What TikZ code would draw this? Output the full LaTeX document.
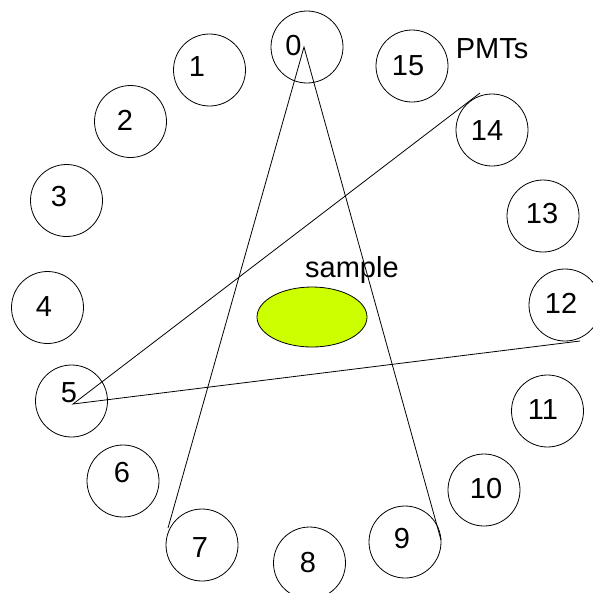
\documentclass[tikz,border=0pt]{standalone}
\usepackage{fontspec}
\setmainfont{Liberation Sans}
\usetikzlibrary{shapes.geometric}
\definecolor{samplefill}{HTML}{CCFF00}
\begin{document}
\begin{tikzpicture}[x=1pt,y=-1pt,
  pmt/.style={draw,circle,line width=0.8pt,minimum size=72pt,inner sep=0pt},
  num/.style={font=\fontsize{29}{30}\selectfont,inner sep=0pt},
  ray/.style={line width=0.8pt}]
\useasboundingbox (0,0) rectangle (593,592);

% ring of photomultiplier tubes
\foreach \n/\x/\y in {0/307/47, 1/209.5/70, 2/130.5/121.5, 3/66.5/200.5,
    4/47.5/307.5, 5/71.5/401, 6/123/481, 7/202/545, 8/309.5/563,
    9/405/542, 10/484/490, 11/547.5/411, 12/565/305, 13/543/216,
    14/492/130, 15/412/66}
  \node[pmt] (p\n) at (\x,\y) {};

% tube numbers
\foreach \n/\x/\y in {0/293.5/46, 1/197/67, 2/125/120, 3/59/197, 4/44/307,
    5/69/393, 6/122/473, 7/200/548, 8/308/563, 9/402/539, 10/486/489,
    11/543/410, 12/561/303, 13/542/214, 14/487/131, 15/408/66}
  \node[num] (t\n) at (\x,\y) {\n};

\node[num] (pmts) at (492,49) {PMTs};

% sample in the centre
\node[draw,ellipse,fill=samplefill,line width=0.8pt,minimum width=110pt,
      minimum height=60pt,inner sep=0pt] (sample) at (312,317) {};
\node[num,anchor=base west] (samplelabel) at (305,277) {sample};

% coincidence lines between tube pairs
\coordinate (apex0) at ([shift={(-3,0)}]p0.center);
\coordinate (apex5) at ([shift={(1.5,3)}]p5.center);
\coordinate (end7) at ([shift={(-34,-17)}]p7.center);
\coordinate (end9) at ([shift={(36,-2)}]p9.center);
\coordinate (end14) at ([shift={(-12,-37)}]p14.center);
\coordinate (end12) at ([shift={(15,36)}]p12.center);
\draw[ray] (end7) -- (apex0) -- (end9);
\draw[ray] (end14) -- (apex5) -- (end12);
\end{tikzpicture}
\end{document}
